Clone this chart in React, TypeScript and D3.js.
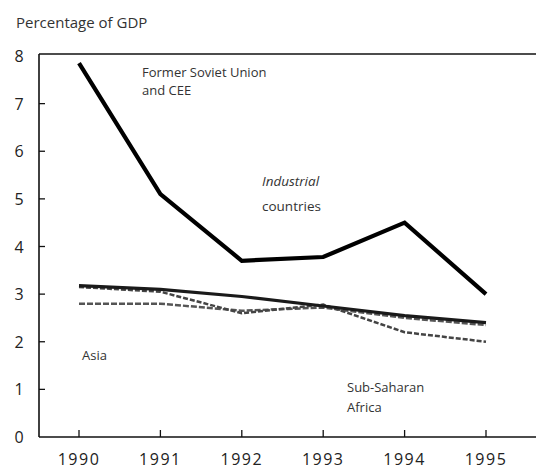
import React, { useRef, useEffect } from 'react';
import * as d3 from 'd3';

const years = [1990, 1991, 1992, 1993, 1994, 1995];
const formerSovietUnion = [7.85, 5.1, 3.7, 3.78, 4.5, 3.0];
const industrialCountries = [3.18, 3.1, 2.95, 2.75, 2.55, 2.4];
const asia = [2.8, 2.8, 2.65, 2.72, 2.5, 2.35];
const subSaharanAfrica = [3.15, 3.05, 2.6, 2.78, 2.2, 2.0];
const yTicks = [0, 1, 2, 3, 4, 5, 6, 7, 8];

const FONT = '"Open Sans", "DejaVu Sans", sans-serif';

function App() {
  const svgRef = useRef<SVGSVGElement | null>(null);
  const width = 536;
  const height = 471;

  useEffect(() => {
    const svg = d3.select(svgRef.current);
    svg.selectAll('*').remove();

    const left = 39;
    const top = 56;
    const bottom = 437;

    const x = d3.scaleLinear().domain([1990, 1995]).range([79, 486]);
    const y = d3.scaleLinear().domain([0, 8]).range([bottom, top]);

    // frame: left axis, top rule, bottom axis (open on the right)
    svg.append('line').attr('x1', left).attr('x2', left).attr('y1', top - 2).attr('y2', bottom)
      .attr('stroke', '#111').attr('stroke-width', 1.6);
    svg.append('line').attr('x1', left).attr('x2', width).attr('y1', top - 2).attr('y2', top - 2)
      .attr('stroke', '#111').attr('stroke-width', 1.6);
    svg.append('line').attr('x1', left).attr('x2', width).attr('y1', bottom).attr('y2', bottom)
      .attr('stroke', '#111').attr('stroke-width', 1.6);

    // y axis ticks (inward) and labels
    const yAxis = svg.append('g');
    yAxis.selectAll('line').data(yTicks.filter(d => d > 0 && d < 8)).enter().append('line')
      .attr('x1', left).attr('x2', left + 6)
      .attr('y1', d => y(d)).attr('y2', d => y(d))
      .attr('stroke', '#111').attr('stroke-width', 1.3);
    yAxis.selectAll('text').data(yTicks).enter().append('text')
      .attr('x', 19).attr('y', d => y(d) + 6)
      .attr('text-anchor', 'middle')
      .style('font-family', FONT).style('font-size', '16px').attr('fill', '#222')
      .text(d => d);

    // x axis ticks (upward) and labels
    const xAxis = svg.append('g');
    xAxis.selectAll('line').data(years).enter().append('line')
      .attr('x1', d => x(d)).attr('x2', d => x(d))
      .attr('y1', bottom).attr('y2', bottom - 7)
      .attr('stroke', '#111').attr('stroke-width', 1.3);
    xAxis.selectAll('text').data(years).enter().append('text')
      .attr('x', d => x(d)).attr('y', 465)
      .attr('text-anchor', 'middle')
      .style('font-family', FONT).style('font-size', '16px').style('letter-spacing', '1.5px')
      .attr('fill', '#222')
      .text(d => d);

    const line = d3.line<number>()
      .x((d, i) => x(years[i]))
      .y(d => y(d));

    // thinner series first, then the heavy one
    svg.append('path').datum(asia).attr('d', line)
      .attr('fill', 'none').attr('stroke', '#555').attr('stroke-width', 2.5)
      .attr('stroke-dasharray', '6,2');
    svg.append('path').datum(subSaharanAfrica).attr('d', line)
      .attr('fill', 'none').attr('stroke', '#444').attr('stroke-width', 2.5)
      .attr('stroke-dasharray', '5,2');
    svg.append('path').datum(industrialCountries).attr('d', line)
      .attr('fill', 'none').attr('stroke', '#1a1a1a').attr('stroke-width', 3.2);
    svg.append('path').datum(formerSovietUnion).attr('d', line)
      .attr('fill', 'none').attr('stroke', '#000').attr('stroke-width', 4.2)
      .attr('stroke-linejoin', 'miter');

    // title and series labels
    const label = (tx: number, ty: number, t: string, size = 13, italic = false) => {
      svg.append('text').attr('x', tx).attr('y', ty)
        .style('font-family', FONT).style('font-size', `${size}px`)
        .style('font-style', italic ? 'italic' : 'normal')
        .attr('fill', '#333').text(t);
    };
    label(16, 28, 'Percentage of GDP', 15);
    label(142, 77, 'Former Soviet Union');
    label(142, 95, 'and CEE');
    label(262, 186, 'Industrial', 13.5, true);
    label(262, 211, 'countries', 13.5);
    label(82, 360, 'Asia');
    label(347, 392, 'Sub-Saharan');
    label(347, 412, 'Africa');
  }, []);

  return (
    <div>
      <svg ref={svgRef} width={width} height={height}
        style={{ position: 'absolute', left: 0, top: 0, background: '#fff' }} />
    </div>
  );
}

export default App;
